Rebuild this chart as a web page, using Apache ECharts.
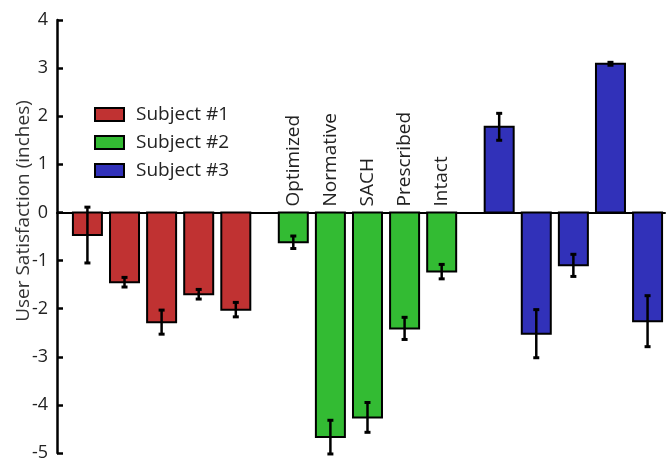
<!DOCTYPE html>
<html><head><meta charset="utf-8">
<script src="https://cdn.jsdelivr.net/npm/echarts@6/dist/echarts.min.js"></script>
<style>html,body{margin:0;padding:0;background:#fff}#c{width:670px;height:462px}</style>
</head><body><div id="c"></div>
<script>
const subjects = ['Subject #1', 'Subject #2', 'Subject #3'];
const conditions = ['Optimized', 'Normative', 'SACH', 'Prescribed', 'Intact'];
const subject1 = [-0.47, -1.45, -2.28, -1.70, -2.02];
const subject1Err = [0.58, 0.10, 0.25, 0.10, 0.15];
const subject2 = [-0.62, -4.67, -4.26, -2.41, -1.23];
const subject2Err = [0.13, 0.35, 0.31, 0.23, 0.15];
const subject3 = [1.78, -2.52, -1.10, 3.09, -2.26];
const subject3Err = [0.28, 0.50, 0.23, 0.03, 0.53];
const yTicks = [-5, -4, -3, -2, -1, 0, 1, 2, 3, 4];

const colors = ['#c03232', '#33bb33', '#3131b9'];
const FONT = 'Open Sans';
const values = [subject1, subject2, subject3];
const errs = [subject1Err, subject2Err, subject3Err];
const GROUP_STEP = 5.55;
const pos = (g, i) => g * GROUP_STEP + i;

const series = [];
values.forEach((vals, g) => {
  const data = vals.map((v, i) => [pos(g, i), v, errs[g][i]]);
  series.push({
    name: subjects[g], type: 'custom', z: 2,
    itemStyle: { color: colors[g], borderColor: '#000', borderWidth: 2 },
    data: data,
    renderItem: function (params, api) {
      const x = api.value(0), v = api.value(1);
      const p0 = api.coord([x, 0]), p1 = api.coord([x, v]);
      const w = 29;
      return { type: 'rect',
        shape: { x: p0[0] - w / 2, y: Math.min(p0[1], p1[1]), width: w, height: Math.abs(p1[1] - p0[1]) },
        style: { fill: colors[g], stroke: '#000', lineWidth: 2 } };
    }
  });
  series.push({
    type: 'custom', z: 4, silent: true,
    data: data,
    renderItem: function (params, api) {
      const x = api.value(0), v = api.value(1), e = api.value(2);
      const top = api.coord([x, v + e]), bot = api.coord([x, v - e]);
      const c = 3;
      return { type: 'group', children: [
        { type: 'line', shape: { x1: top[0], y1: top[1], x2: bot[0], y2: bot[1] }, style: { stroke: '#000', lineWidth: 2.5 } },
        { type: 'line', shape: { x1: top[0] - c, y1: top[1], x2: top[0] + c, y2: top[1] }, style: { stroke: '#000', lineWidth: 3 } },
        { type: 'line', shape: { x1: bot[0] - c, y1: bot[1], x2: bot[0] + c, y2: bot[1] }, style: { stroke: '#000', lineWidth: 3 } }
      ] };
    }
  });
});
series.push({
  type: 'custom', z: 5, silent: true,
  data: conditions.map((name, i) => [pos(1, i), 0, name]),
  renderItem: function (params, api) {
    const p = api.coord([api.value(0), 0]);
    return { type: 'text', x: p[0], y: p[1] - 6, rotation: Math.PI / 2,
      style: { text: conditions[params.dataIndex], x: 0, y: 0, align: 'left', verticalAlign: 'middle',
        fontSize: 19, fontFamily: FONT, fill: '#222' } };
  }
});

const chart = echarts.init(document.getElementById('c'));
chart.setOption({
  animation: false,
  grid: { left: 57, right: 5, top: 20, bottom: 4 },
  legend: {
    data: subjects, orient: 'vertical', left: 94, top: 105, padding: 0,
    itemWidth: 29, itemHeight: 13, itemGap: 9, icon: 'rect',
    textStyle: { fontSize: 19, fontFamily: FONT, color: '#222', padding: [0, 0, 0, 7] }
  },
  graphic: [{
    type: 'text', x: 24, y: 211, rotation: Math.PI / 2,
    style: { text: 'User Satisfaction (inches)', x: 0, y: 0, align: 'center', verticalAlign: 'middle',
      fontSize: 19, fontFamily: FONT, fill: '#333' }
  }],
  xAxis: {
    type: 'value', min: -0.82, max: 15.57,
    axisLine: { show: true, onZero: true, lineStyle: { color: '#000', width: 2 } },
    axisTick: { show: false }, axisLabel: { show: false }, splitLine: { show: false }
  },
  yAxis: {
    type: 'value', min: yTicks[0], max: yTicks[yTicks.length - 1], interval: 1,
    axisLine: { show: true, onZero: false, lineStyle: { color: '#000', width: 2.5 } },
    axisTick: { show: true, inside: true, length: 6, lineStyle: { color: '#000', width: 2.5 } },
    axisLabel: { fontSize: 18, fontFamily: FONT, color: '#222', margin: 9 },
    splitLine: { show: false }
  },
  series: series
});
</script></body></html>
